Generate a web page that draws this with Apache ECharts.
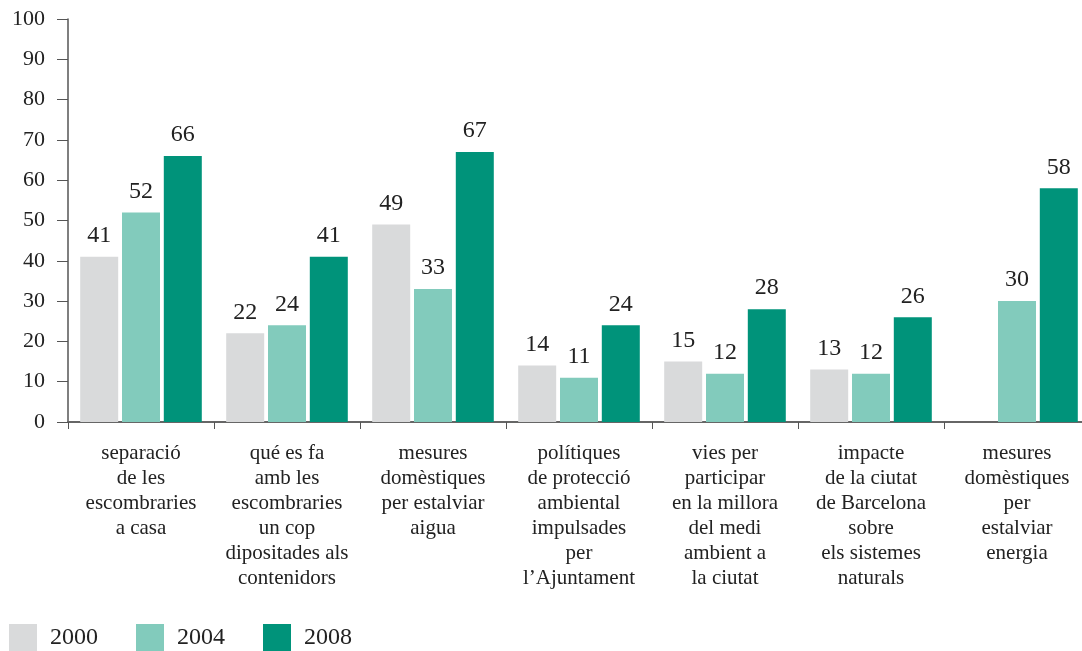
<!DOCTYPE html>
<html>
<head>
<meta charset="utf-8">
<script src="https://cdn.jsdelivr.net/npm/echarts@6/dist/echarts.min.js"></script>
<style>
  html, body { margin: 0; padding: 0; background: #fff; overflow: hidden; }
  /* the axis runs slightly past the right edge in the original */
  #chart { width: 1090px; height: 651px; }
</style>
</head>
<body>
<div id="chart"></div>
<script>
// categories (line breaks as in the original layout)
var categories = [
  "separació\nde les\nescombraries\na casa",
  "qué es fa\namb les\nescombraries\nun cop\ndipositades als\ncontenidors",
  "mesures\ndomèstiques\nper estalviar\naigua",
  "polítiques\nde protecció\nambiental\nimpulsades\nper\nl’Ajuntament",
  "vies per\nparticipar\nen la millora\ndel medi\nambient a\nla ciutat",
  "impacte\nde la ciutat\nde Barcelona\nsobre\nels sistemes\nnaturals",
  "mesures\ndomèstiques\nper\nestalviar\nenergia"
];
var years = ["2000", "2004", "2008"];
var values2000 = [41, 22, 49, 14, 15, 13, null];
var values2004 = [52, 24, 33, 11, 12, 12, 30];
var values2008 = [66, 41, 67, 24, 28, 26, 58];

var colors = ["#d9dadb", "#82cbbc", "#00937a"];
var font = "'Liberation Serif', 'DejaVu Serif', serif";

function barSeries(name, data) {
  return {
    name: name,
    type: "bar",
    data: data,
    barWidth: 38,
    barGap: "10%",
    label: {
      show: true,
      position: "top",
      distance: 9,
      fontFamily: font,
      fontSize: 24,
      color: "#222"
    }
  };
}

var myChart = echarts.init(document.getElementById("chart"));
var option = {
  animation: false,
  color: colors,
  textStyle: { fontFamily: font },
  grid: {
    left: 68,
    top: 19,
    right: 0,
    bottom: 229,
    containLabel: false
  },
  legend: {
    data: years,
    left: 9,
    top: 624,
    padding: 0,
    itemWidth: 28,
    itemHeight: 27,
    itemGap: 38,
    icon: "rect",
    textStyle: {
      fontFamily: font,
      fontSize: 24,
      color: "#222",
      width: 70,
      padding: [0, 0, 0, 8]
    }
  },
  xAxis: {
    type: "category",
    data: categories,
    axisLine: { lineStyle: { color: "#666", width: 2 } },
    axisTick: { show: true, length: 7, lineStyle: { color: "#555" } },
    axisLabel: {
      interval: 0,
      margin: 19,
      fontFamily: font,
      fontSize: 21,
      lineHeight: 25,
      color: "#222"
    }
  },
  yAxis: {
    type: "value",
    min: 0,
    max: 100,
    interval: 10,
    axisLine: { show: true, lineStyle: { color: "#555", width: 1.5 } },
    axisTick: { show: true, length: 11, lineStyle: { color: "#555" } },
    splitLine: { show: false },
    axisLabel: {
      margin: 23,
      fontFamily: font,
      fontSize: 22,
      color: "#222"
    }
  },
  series: [
    barSeries(years[0], values2000),
    barSeries(years[1], values2004),
    barSeries(years[2], values2008)
  ]
};
myChart.setOption(option);
</script>
</body>
</html>
